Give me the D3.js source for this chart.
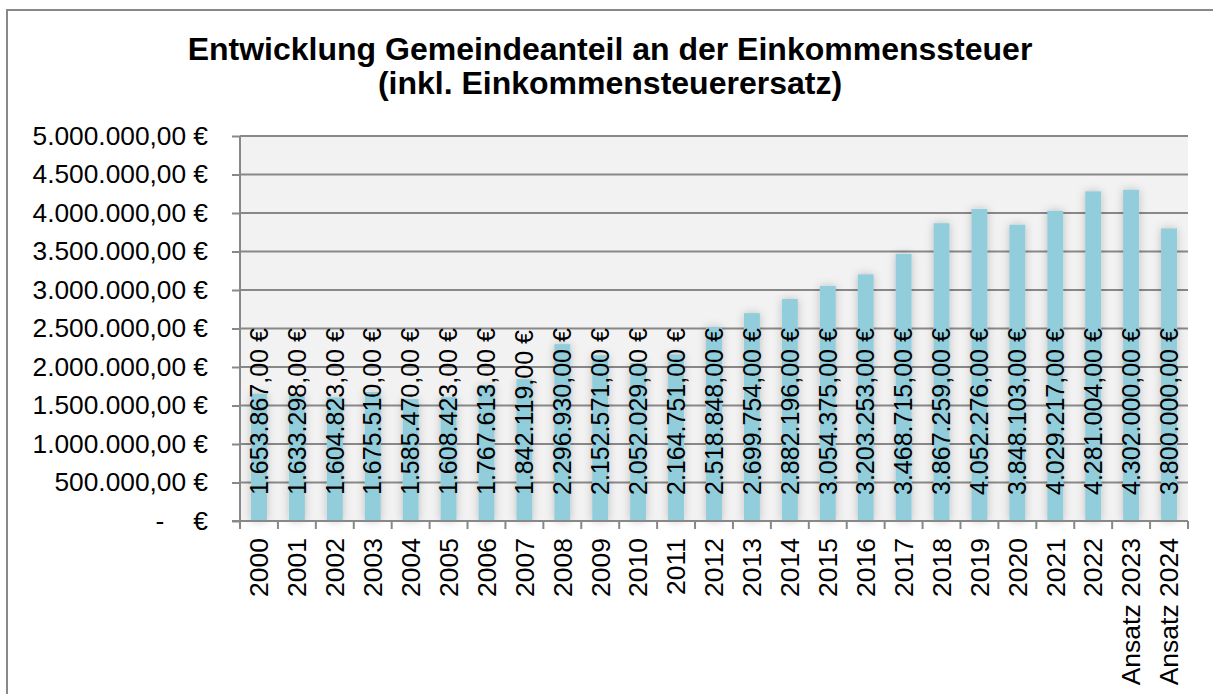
<!DOCTYPE html>
<html>
<head>
<meta charset="utf-8">
<script src="https://cdn.jsdelivr.net/npm/d3@7"></script>
<style>
  html, body { margin: 0; padding: 0; background: #fff; }
  svg { display: block; font-family: Arial, "Liberation Sans", sans-serif; }
</style>
</head>
<body>
<svg id="chart" width="1213" height="694"></svg>
<script>
const categories = ["2000","2001","2002","2003","2004","2005","2006","2007","2008","2009","2010","2011","2012","2013","2014","2015","2016","2017","2018","2019","2020","2021","2022","Ansatz 2023","Ansatz 2024"];
const values = [1653867,1633298,1604823,1675510,1585470,1608423,1767613,1842119,2296930,2152571,2052029,2164751,2518848,2699754,2882196,3054375,3203253,3468715,3867259,4052276,3848103,4029217,4281004,4302000,3800000];
const yTicks = [0,500000,1000000,1500000,2000000,2500000,3000000,3500000,4000000,4500000,5000000];
const titleLines = ["Entwicklung Gemeindeanteil an der Einkommenssteuer","(inkl. Einkommensteuerersatz)"];

(function () {
const locale = d3.formatLocale({decimal: ",", thousands: ".", grouping: [3], currency: ["", " €"]});
const fmt = locale.format(",.2f");
const euro = v => v === 0 ? "-\u00A0\u00A0\u00A0\u00A0€" : fmt(v) + " €";

const svg = d3.select("#chart");
const pLeft = 240, pRight = 1188, pTop = 136, pBottom = 521;

// outer border
svg.append("rect").attr("x", 7).attr("y", 10).attr("width", 1240).attr("height", 720)
  .attr("fill", "none").attr("stroke", "#888").attr("stroke-width", 2);

// shadow filter
const defs = svg.append("defs");
const f = defs.append("filter").attr("id", "shadow").attr("x", "-100%").attr("y", "-20%").attr("width", "300%").attr("height", "140%");
f.append("feDropShadow").attr("dx", 0).attr("dy", 0).attr("stdDeviation", 4).attr("flood-color", "#000").attr("flood-opacity", 0.22);

// title
svg.append("g").selectAll("text").data(titleLines).join("text")
  .attr("x", 610).attr("y", (d, i) => 60 + i * 34)
  .attr("text-anchor", "middle").attr("font-weight", "bold").attr("font-size", 32)
  .attr("fill", "#000").text(d => d);

const x = d3.scaleBand().domain(categories).range([pLeft, pRight]).paddingInner(0.58).paddingOuter(0.29);
const y = d3.scaleLinear().domain([0, 5000000]).range([pBottom, pTop]);

// plot background
svg.append("rect").attr("x", pLeft).attr("y", pTop).attr("width", pRight - pLeft).attr("height", pBottom - pTop).attr("fill", "#f2f2f2");

// y axis
const yAxis = d3.axisLeft(y).tickValues(yTicks).tickFormat(euro).tickSize(8).tickPadding(24);
const yg = svg.append("g").attr("transform", `translate(${pLeft},0)`).call(yAxis);
yg.select(".domain").remove();
yg.selectAll(".tick line").attr("stroke", "#888").attr("stroke-width", 2);
yg.selectAll(".tick text").attr("font-size", 26.3).attr("fill", "#000").attr("font-family", "Arial, 'Liberation Sans', sans-serif").style("white-space", "pre");
// gridlines
svg.append("g").selectAll("line").data(yTicks).join("line")
  .attr("x1", pLeft).attr("x2", pRight).attr("y1", d => y(d)).attr("y2", d => y(d))
  .attr("stroke", "#888").attr("stroke-width", 2);
svg.append("line").attr("x1", pLeft).attr("x2", pLeft).attr("y1", pTop).attr("y2", pBottom).attr("stroke", "#888").attr("stroke-width", 2);

// bars
svg.append("g").selectAll("rect").data(values).join("rect")
  .attr("x", (d, i) => x(categories[i])).attr("width", x.bandwidth())
  .attr("y", d => y(d)).attr("height", d => pBottom - y(d))
  .attr("fill", "#92cddc").attr("filter", "url(#shadow)");

// x axis ticks at boundaries
const step = x.step();
const boundaries = d3.range(categories.length + 1).map(i => pLeft + i * step);
svg.append("g").selectAll("line").data(boundaries).join("line")
  .attr("x1", d => d).attr("x2", d => d).attr("y1", pBottom).attr("y2", pBottom + 8)
  .attr("stroke", "#888").attr("stroke-width", 2);
svg.append("line").attr("x1", pLeft - 8).attr("x2", pRight).attr("y1", pBottom).attr("y2", pBottom).attr("stroke", "#888").attr("stroke-width", 2);

// x labels
svg.append("g").selectAll("text").data(categories).join("text")
  .attr("transform", d => `translate(${x(d) + x.bandwidth() / 2},538) rotate(-90)`)
  .attr("text-anchor", "end").attr("dy", "0.35em").attr("font-size", 26.5).attr("fill", "#000").text(d => d);

// data labels
svg.append("g").selectAll("text").data(values).join("text")
  .attr("transform", (d, i) => `translate(${x(categories[i]) + x.bandwidth() / 2},${pBottom - 26}) rotate(-90)`)
  .attr("text-anchor", "start").attr("dy", "0.35em").attr("font-size", 25).attr("fill", "#000").text(d => fmt(d) + " €");
})();
</script>
</body>
</html>
